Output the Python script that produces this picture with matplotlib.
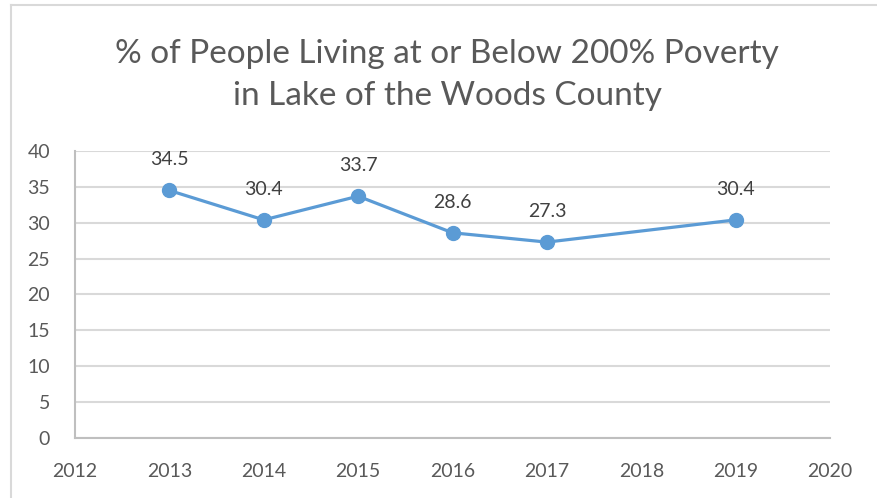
import matplotlib.pyplot as plt
from matplotlib.lines import Line2D

years = [2013, 2014, 2015, 2016, 2017, 2019]
pct = [34.5, 30.4, 33.7, 28.6, 27.3, 30.4]
labels = ["34.5", "30.4", "33.7", "28.6", "27.3", "30.4"]

plt.rcParams['font.family'] = ['Lato', 'DejaVu Sans']

fig = plt.figure(figsize=(8.77, 4.98), dpi=100)
ax = fig.add_axes([0.0855, 0.1205, 0.861, 0.5763])

ax.plot(years, pct, color='#5B9BD5', lw=2.3, marker='o', ms=10, zorder=3)
for x, y, s in zip(years, pct, labels):
    ax.annotate(s, (x, y), xytext=(0, 16), textcoords='offset points',
                ha='center', va='bottom', fontsize=14, color='#404040')

ax.set_xlim(2012, 2020)
ax.set_ylim(0, 40)
ax.set_xticks(range(2012, 2021))
ax.set_yticks(range(0, 41, 5))
ax.grid(axis='y', color='#D9D9D9', lw=1.5)
ax.set_axisbelow(True)
for s in ['top', 'right']:
    ax.spines[s].set_visible(False)
ax.spines['left'].set_color('#BFBFBF')
ax.spines['left'].set_linewidth(1.5)
ax.spines['bottom'].set_color('#BFBFBF')
ax.spines['bottom'].set_linewidth(1.5)
ax.tick_params(length=0, labelsize=14, labelcolor='#595959', pad=18)
ax.tick_params(axis='y', pad=18)

fig.text(0.51, 0.849, "% of People Living at or Below 200% Poverty\nin Lake of the Woods County",
         ha='center', va='center', fontsize=24, color='#595959', linespacing=1.5)

# outer chart border (left and top edges visible)
fig.add_artist(Line2D([10.5/877, 10.5/877], [0, 1 - 5/498], transform=fig.transFigure,
                      color='#D9D9D9', lw=1.5))
fig.add_artist(Line2D([10.5/877, 1], [1 - 5/498, 1 - 5/498], transform=fig.transFigure,
                      color='#D9D9D9', lw=1.5))

fig.savefig('out.png', dpi=100)
